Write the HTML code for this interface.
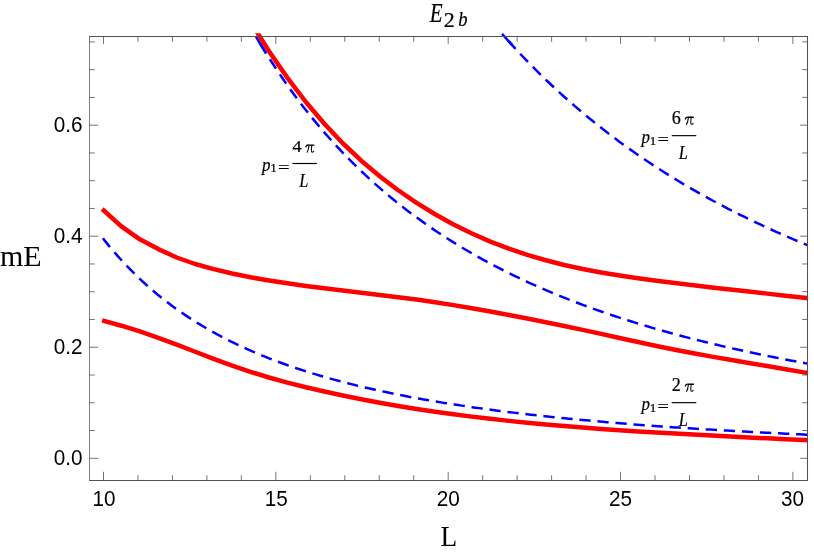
<!DOCTYPE html>
<html><head><meta charset="utf-8"><title>E2b</title>
<style>
html,body{margin:0;padding:0;background:#fff;}
body{width:814px;height:554px;overflow:hidden;font-family:"Liberation Sans",sans-serif;}
svg{display:block;will-change:transform;}
svg text{font-family:"Liberation Serif",serif;}
svg g[font-family="Liberation Sans"] text{font-family:"Liberation Sans",sans-serif;}
</style></head><body>
<svg width="814" height="554" viewBox="0 0 814 554">
<defs><clipPath id="cp"><rect x="89.50" y="33.30" width="718.00" height="447.20"/></clipPath><clipPath id="cpb"><rect x="89.50" y="0" width="718.00" height="480.50"/></clipPath></defs>
<rect width="814" height="554" fill="#fff"/>
<g fill="#000">
<text transform="translate(429.66,21.70) scale(0.752,1)" font-family="Liberation Serif" font-style="italic" font-size="27.92" stroke="#000" stroke-width="0.22">E</text>
<text transform="translate(443.80,26.50) scale(1.080,1)" font-family="Liberation Serif" font-style="normal" font-size="20.38" stroke="#000" stroke-width="0.22">2</text>
<text transform="translate(458.21,26.25) scale(0.926,1)" font-family="Liberation Serif" font-style="italic" font-size="20.00" stroke="#000" stroke-width="0.22">b</text>
<text transform="translate(-0.05,266.10) scale(1.047,1)" font-family="Liberation Serif" font-style="normal" font-size="28.68">mE</text>
<text transform="translate(440.62,546.00) scale(0.950,1)" font-family="Liberation Serif" font-style="normal" font-size="28.68">L</text>
<text transform="translate(262.06,170.70) scale(0.856,1)" font-family="Liberation Serif" font-style="italic" font-size="19.78" stroke="#000" stroke-width="0.22">p</text>
<text transform="translate(270.27,172.40) scale(1.100,1)" font-family="Liberation Serif" font-style="normal" font-size="11.80" stroke="#000" stroke-width="0.22">1</text>
<text transform="translate(278.11,172.88) scale(1.240,1)" font-family="Liberation Serif" font-style="normal" font-size="16.40" stroke="#000" stroke-width="0.22">=</text>
<text transform="translate(299.30,186.60) scale(0.890,1)" font-family="Liberation Serif" font-style="italic" font-size="18.42" stroke="#000" stroke-width="0.22">L</text>
<g transform="translate(305.40,144.20)" fill="none" stroke="#000" stroke-linecap="round" stroke-linejoin="round"><path stroke-width="1.35" d="M0.5,2.6 C1.1,1.1 1.9,0.75 3.2,0.85 L8.6,0.85"/><path stroke-width="1.05" d="M3.6,1.0 C3.4,3.8 2.9,6.2 1.7,8.0"/><path stroke-width="1.05" d="M6.5,1.0 C6.1,3.6 5.7,6.0 6.1,7.3 C6.5,8.3 7.6,8.1 8.3,7.0"/></g>
<text transform="translate(292.45,152.20) scale(1.135,1)" font-family="Liberation Serif" font-style="normal" font-size="16.00" stroke="#000" stroke-width="0.22">4</text>
<rect x="292.30" y="162.93" width="24.6" height="1.15" fill="#000"/>
<text transform="translate(641.46,142.85) scale(0.856,1)" font-family="Liberation Serif" font-style="italic" font-size="19.78" stroke="#000" stroke-width="0.22">p</text>
<text transform="translate(649.67,144.55) scale(1.100,1)" font-family="Liberation Serif" font-style="normal" font-size="11.80" stroke="#000" stroke-width="0.22">1</text>
<text transform="translate(657.51,145.03) scale(1.240,1)" font-family="Liberation Serif" font-style="normal" font-size="16.40" stroke="#000" stroke-width="0.22">=</text>
<text transform="translate(678.70,158.75) scale(0.890,1)" font-family="Liberation Serif" font-style="italic" font-size="18.42" stroke="#000" stroke-width="0.22">L</text>
<g transform="translate(684.80,116.35)" fill="none" stroke="#000" stroke-linecap="round" stroke-linejoin="round"><path stroke-width="1.35" d="M0.5,2.6 C1.1,1.1 1.9,0.75 3.2,0.85 L8.6,0.85"/><path stroke-width="1.05" d="M3.6,1.0 C3.4,3.8 2.9,6.2 1.7,8.0"/><path stroke-width="1.05" d="M6.5,1.0 C6.1,3.6 5.7,6.0 6.1,7.3 C6.5,8.3 7.6,8.1 8.3,7.0"/></g>
<text transform="translate(671.85,124.35) scale(0.990,1)" font-family="Liberation Serif" font-style="normal" font-size="18.30" stroke="#000" stroke-width="0.22">6</text>
<rect x="671.70" y="135.08" width="24.6" height="1.15" fill="#000"/>
<text transform="translate(641.46,409.85) scale(0.856,1)" font-family="Liberation Serif" font-style="italic" font-size="19.78" stroke="#000" stroke-width="0.22">p</text>
<text transform="translate(649.67,411.55) scale(1.100,1)" font-family="Liberation Serif" font-style="normal" font-size="11.80" stroke="#000" stroke-width="0.22">1</text>
<text transform="translate(657.51,412.03) scale(1.240,1)" font-family="Liberation Serif" font-style="normal" font-size="16.40" stroke="#000" stroke-width="0.22">=</text>
<text transform="translate(678.70,425.75) scale(0.890,1)" font-family="Liberation Serif" font-style="italic" font-size="18.42" stroke="#000" stroke-width="0.22">L</text>
<g transform="translate(684.80,383.35)" fill="none" stroke="#000" stroke-linecap="round" stroke-linejoin="round"><path stroke-width="1.35" d="M0.5,2.6 C1.1,1.1 1.9,0.75 3.2,0.85 L8.6,0.85"/><path stroke-width="1.05" d="M3.6,1.0 C3.4,3.8 2.9,6.2 1.7,8.0"/><path stroke-width="1.05" d="M6.5,1.0 C6.1,3.6 5.7,6.0 6.1,7.3 C6.5,8.3 7.6,8.1 8.3,7.0"/></g>
<text transform="translate(671.85,391.35) scale(0.990,1)" font-family="Liberation Serif" font-style="normal" font-size="18.30" stroke="#000" stroke-width="0.22">2</text>
<rect x="671.70" y="402.08" width="24.6" height="1.15" fill="#000"/>
</g>
<g font-family="Liberation Sans" font-size="21.25" fill="#000">
<text transform="translate(104.00,506.1) scale(0.975,1)" text-anchor="middle">10</text>
<text transform="translate(276.15,506.1) scale(0.975,1)" text-anchor="middle">15</text>
<text transform="translate(448.30,506.1) scale(0.975,1)" text-anchor="middle">20</text>
<text transform="translate(620.45,506.1) scale(0.975,1)" text-anchor="middle">25</text>
<text transform="translate(792.60,506.1) scale(0.975,1)" text-anchor="middle">30</text>
<text transform="translate(82.5,465.35) scale(0.975,1)" text-anchor="end">0.0</text>
<text transform="translate(82.5,354.31) scale(0.975,1)" text-anchor="end">0.2</text>
<text transform="translate(82.5,243.27) scale(0.975,1)" text-anchor="end">0.4</text>
<text transform="translate(82.5,132.23) scale(0.975,1)" text-anchor="end">0.6</text>
</g>
<g clip-path="url(#cpb)" fill="none">
<g stroke="#0000ff" stroke-width="2.5" stroke-dasharray="11.3 6.8">
<path d="M102.90,238.27 L106.35,242.62 L109.80,246.84 L113.25,250.94 L116.70,254.92 L120.14,258.78 L123.59,262.54 L127.04,266.19 L130.49,269.74 L133.94,273.20 L137.39,276.56 L140.84,279.82 L144.29,283.00 L147.74,286.10 L151.19,289.12 L154.63,292.05 L158.08,294.92 L161.53,297.70 L164.98,300.42 L168.43,303.07 L171.88,305.65 L175.33,308.17 L178.78,310.63 L182.23,313.03 L185.68,315.37 L189.12,317.65 L192.57,319.88 L196.02,322.06 L199.47,324.18 L202.92,326.26 L206.37,328.29 L209.82,330.27 L213.27,332.21 L216.72,334.10 L220.17,335.95 L223.61,337.76 L227.06,339.53 L230.51,341.27 L233.96,342.96 L237.41,344.62 L240.86,346.24 L244.31,347.83 L247.76,349.38 L251.21,350.90 L254.66,352.39 L258.10,353.85 L261.55,355.28 L265.00,356.68 L268.45,358.06 L271.90,359.40 L275.35,360.72 L278.80,362.01 L282.25,363.28 L285.70,364.52 L289.15,365.73 L292.59,366.93 L296.04,368.10 L299.49,369.25 L302.94,370.37 L306.39,371.48 L309.84,372.56 L313.29,373.63 L316.74,374.67 L320.19,375.70 L323.64,376.71 L327.08,377.69 L330.53,378.66 L333.98,379.62 L337.43,380.55 L340.88,381.47 L344.33,382.38 L347.78,383.27 L351.23,384.14 L354.68,384.99 L358.13,385.84 L361.57,386.67 L365.02,387.48 L368.47,388.28 L371.92,389.07 L375.37,389.84 L378.82,390.60 L382.27,391.35 L385.72,392.08 L389.17,392.81 L392.62,393.52 L396.07,394.22 L399.51,394.91 L402.96,395.59 L406.41,396.25 L409.86,396.91 L413.31,397.56 L416.76,398.19 L420.21,398.82 L423.66,399.44 L427.11,400.04 L430.56,400.64 L434.00,401.23 L437.45,401.81 L440.90,402.38 L444.35,402.94 L447.80,403.50 L451.25,404.04 L454.70,404.58 L458.15,405.11 L461.60,405.63 L465.05,406.14 L468.49,406.65 L471.94,407.15 L475.39,407.64 L478.84,408.13 L482.29,408.61 L485.74,409.08 L489.19,409.54 L492.64,410.00 L496.09,410.45 L499.54,410.90 L502.98,411.34 L506.43,411.77 L509.88,412.20 L513.33,412.62 L516.78,413.03 L520.23,413.44 L523.68,413.85 L527.13,414.25 L530.58,414.64 L534.03,415.03 L537.47,415.41 L540.92,415.79 L544.37,416.17 L547.82,416.53 L551.27,416.90 L554.72,417.26 L558.17,417.61 L561.62,417.96 L565.07,418.31 L568.52,418.65 L571.96,418.98 L575.41,419.32 L578.86,419.64 L582.31,419.97 L585.76,420.29 L589.21,420.60 L592.66,420.92 L596.11,421.22 L599.56,421.53 L603.01,421.83 L606.45,422.13 L609.90,422.42 L613.35,422.71 L616.80,423.00 L620.25,423.28 L623.70,423.56 L627.15,423.83 L630.60,424.11 L634.05,424.38 L637.50,424.64 L640.94,424.91 L644.39,425.17 L647.84,425.42 L651.29,425.68 L654.74,425.93 L658.19,426.18 L661.64,426.42 L665.09,426.67 L668.54,426.91 L671.99,427.14 L675.43,427.38 L678.88,427.61 L682.33,427.84 L685.78,428.07 L689.23,428.29 L692.68,428.51 L696.13,428.73 L699.58,428.95 L703.03,429.17 L706.48,429.38 L709.92,429.59 L713.37,429.80 L716.82,430.00 L720.27,430.21 L723.72,430.41 L727.17,430.61 L730.62,430.80 L734.07,431.00 L737.52,431.19 L740.97,431.38 L744.41,431.57 L747.86,431.76 L751.31,431.94 L754.76,432.12 L758.21,432.31 L761.66,432.48 L765.11,432.66 L768.56,432.84 L772.01,433.01 L775.46,433.18 L778.90,433.35 L782.35,433.52 L785.80,433.69 L789.25,433.85 L792.70,434.02 L796.15,434.18 L799.60,434.34 L803.05,434.50 L806.50,434.66 L809.95,434.81 L813.39,434.96"/>
<path d="M260.29,43.84 L262.62,47.68 L266.07,53.25 L269.52,58.70 L272.97,64.05 L276.42,69.28 L279.87,74.42 L283.32,79.45 L286.77,84.39 L290.21,89.23 L293.66,93.97 L297.11,98.63 L300.56,103.19 L304.01,107.67 L307.46,112.07 L310.91,116.38 L314.36,120.61 L317.81,124.77 L321.26,128.85 L324.70,132.85 L328.15,136.79 L331.60,140.65 L335.05,144.44 L338.50,148.16 L341.95,151.82 L345.40,155.42 L348.85,158.95 L352.30,162.42 L355.75,165.83 L359.19,169.18 L362.64,172.48 L366.09,175.71 L369.54,178.90 L372.99,182.03 L376.44,185.11 L379.89,188.13 L383.34,191.11 L386.79,194.04 L390.24,196.92 L393.68,199.75 L397.13,202.54 L400.58,205.28 L404.03,207.98 L407.48,210.64 L410.93,213.25 L414.38,215.82 L417.83,218.36 L421.28,220.85 L424.73,223.30 L428.17,225.72 L431.62,228.10 L435.07,230.44 L438.52,232.75 L441.97,235.02 L445.42,237.26 L448.87,239.47 L452.32,241.64 L455.77,243.78 L459.22,245.89 L462.66,247.96 L466.11,250.01 L469.56,252.03 L473.01,254.02 L476.46,255.98 L479.91,257.91 L483.36,259.81 L486.81,261.69 L490.26,263.54 L493.71,265.36 L497.15,267.16 L500.60,268.94 L504.05,270.69 L507.50,272.41 L510.95,274.12 L514.40,275.79 L517.85,277.45 L521.30,279.08 L524.75,280.69 L528.20,282.28 L531.64,283.85 L535.09,285.40 L538.54,286.93 L541.99,288.43 L545.44,289.92 L548.89,291.39 L552.34,292.84 L555.79,294.27 L559.24,295.68 L562.69,297.07 L566.13,298.45 L569.58,299.81 L573.03,301.15 L576.48,302.47 L579.93,303.78 L583.38,305.07 L586.83,306.34 L590.28,307.60 L593.73,308.84 L597.18,310.07 L600.62,311.29 L604.07,312.48 L607.52,313.67 L610.97,314.84 L614.42,315.99 L617.87,317.13 L621.32,318.26 L624.77,319.37 L628.22,320.47 L631.67,321.56 L635.11,322.64 L638.56,323.70 L642.01,324.75 L645.46,325.79 L648.91,326.81 L652.36,327.83 L655.81,328.83 L659.26,329.82 L662.71,330.80 L666.16,331.77 L669.60,332.73 L673.05,333.67 L676.50,334.61 L679.95,335.53 L683.40,336.45 L686.85,337.35 L690.30,338.25 L693.75,339.13 L697.20,340.01 L700.65,340.87 L704.09,341.73 L707.54,342.58 L710.99,343.41 L714.44,344.24 L717.89,345.06 L721.34,345.87 L724.79,346.67 L728.24,347.47 L731.69,348.25 L735.14,349.03 L738.58,349.80 L742.03,350.56 L745.48,351.31 L748.93,352.06 L752.38,352.79 L755.83,353.52 L759.28,354.24 L762.73,354.96 L766.18,355.67 L769.63,356.37 L773.07,357.06 L776.52,357.74 L779.97,358.42 L783.42,359.09 L786.87,359.76 L790.32,360.42 L793.77,361.07 L797.22,361.72 L800.67,362.35 L804.12,362.99 L807.56,363.61 L811.01,364.23"/>
<path d="M507.98,40.46 L508.98,41.57 L512.42,45.38 L515.87,49.13 L519.32,52.84 L522.77,56.49 L526.22,60.10 L529.67,63.65 L533.12,67.16 L536.57,70.62 L540.02,74.04 L543.47,77.41 L546.91,80.74 L550.36,84.02 L553.81,87.26 L557.26,90.46 L560.71,93.62 L564.16,96.74 L567.61,99.82 L571.06,102.86 L574.51,105.86 L577.96,108.82 L581.40,111.74 L584.85,114.63 L588.30,117.48 L591.75,120.30 L595.20,123.08 L598.65,125.83 L602.10,128.55 L605.55,131.23 L609.00,133.88 L612.45,136.50 L615.89,139.08 L619.34,141.64 L622.79,144.16 L626.24,146.65 L629.69,149.12 L633.14,151.55 L636.59,153.96 L640.04,156.34 L643.49,158.69 L646.94,161.01 L650.38,163.31 L653.83,165.58 L657.28,167.82 L660.73,170.04 L664.18,172.23 L667.63,174.40 L671.08,176.54 L674.53,178.66 L677.98,180.76 L681.43,182.83 L684.87,184.88 L688.32,186.91 L691.77,188.91 L695.22,190.89 L698.67,192.85 L702.12,194.79 L705.57,196.71 L709.02,198.60 L712.47,200.48 L715.92,202.33 L719.36,204.17 L722.81,205.98 L726.26,207.78 L729.71,209.56 L733.16,211.32 L736.61,213.06 L740.06,214.78 L743.51,216.48 L746.96,218.17 L750.41,219.84 L753.85,221.49 L757.30,223.12 L760.75,224.74 L764.20,226.34 L767.65,227.92 L771.10,229.49 L774.55,231.04 L778.00,232.58 L781.45,234.10 L784.90,235.60 L788.34,237.09 L791.79,238.57 L795.24,240.03 L798.69,241.48 L802.14,242.91 L805.59,244.33 L809.04,245.73 L812.49,247.12"/>
</g>
<g stroke="#0000ff" stroke-width="2.5">
<path d="M255.72,36.20 L259.17,42.00 L260.29,43.84 L262.62,47.68 L266.07,53.25"/>
<path d="M502.08,33.80 L505.53,37.71 L507.98,40.46 L508.98,41.57 L512.42,45.38"/>
</g>
</g><g clip-path="url(#cp)" fill="none">
<g stroke="#ff0000" stroke-width="4.5" stroke-linejoin="round">
<path d="M102.10,320.39 L121.40,325.71 L139.85,331.46 L158.30,337.78 L176.75,344.60 L195.20,351.73 L213.65,358.87 L232.10,365.70 L250.55,371.93 L269.00,377.50 L287.45,382.56 L305.90,387.22 L324.35,391.53 L342.80,395.53 L361.25,399.26 L379.70,402.71 L398.15,405.93 L416.60,408.91 L435.05,411.68 L453.50,414.24 L471.95,416.62 L490.40,418.83 L508.85,420.87 L527.30,422.75 L545.75,424.49 L564.20,426.10 L582.65,427.59 L601.10,428.97 L619.55,430.25 L638.00,431.44 L656.45,432.56 L674.90,433.61 L693.35,434.61 L711.80,435.56 L730.25,436.49 L748.70,437.39 L767.15,438.29 L785.60,439.19 L804.05,440.10 L822.50,441.04"/>
<path d="M102.10,209.00 L121.40,226.40 L139.80,239.30 L158.30,249.10 L176.70,257.50 L195.20,264.00 L213.65,269.18 L232.10,273.52 L250.55,277.24 L269.00,280.47 L287.45,283.34 L305.90,285.92 L324.35,288.28 L342.80,290.50 L361.25,292.70 L379.70,294.90 L398.15,297.18 L416.60,299.60 L435.05,302.23 L453.50,305.12 L471.95,308.23 L490.40,311.55 L508.85,314.93 L527.30,318.47 L545.75,322.17 L564.20,325.98 L582.65,329.91 L601.10,333.91 L619.55,337.96 L638.00,341.99 L656.45,346.00 L674.90,349.78 L693.35,353.31 L711.80,356.64 L730.25,359.78 L748.70,362.93 L767.15,366.09 L785.60,369.24 L804.05,372.40 L822.50,375.55"/>
<path d="M250.55,21.84 L269.00,51.17 L287.45,77.85 L305.90,102.00 L324.35,123.76 L342.80,143.26 L361.25,160.66 L379.70,176.22 L398.15,190.25 L416.60,202.91 L435.05,214.29 L453.50,224.48 L471.95,233.55 L490.40,241.59 L508.85,248.67 L527.30,254.87 L545.75,260.28 L564.20,264.98 L582.65,269.04 L601.10,272.55 L619.55,275.58 L638.00,278.22 L656.45,280.68 L674.90,283.09 L693.35,285.34 L711.80,287.54 L730.25,289.58 L748.70,291.61 L767.15,293.63 L785.60,295.65 L804.05,297.68 L822.50,299.70"/>
</g></g>
<g stroke="#525252" stroke-width="1.05" fill="none">
<path d="M89.00,36.50H808.00M89.00,480.50H808.00M807.50,36.50V480.50"/>
<path stroke="#787878" stroke-width="0.95" d="M89.50,36.50V480.50"/>
<path stroke-width="0.8" d="M103.50,480.50V471.80M103.50,36.50V43.90M137.97,480.50V475.20M137.97,36.50V41.80M172.44,480.50V475.20M172.44,36.50V41.80M206.91,480.50V475.20M206.91,36.50V41.80M241.38,480.50V475.20M241.38,36.50V41.80M275.85,480.50V471.80M275.85,36.50V43.90M310.32,480.50V475.20M310.32,36.50V41.80M344.79,480.50V475.20M344.79,36.50V41.80M379.26,480.50V475.20M379.26,36.50V41.80M413.73,480.50V475.20M413.73,36.50V41.80M448.20,480.50V471.80M448.20,36.50V43.90M482.67,480.50V475.20M482.67,36.50V41.80M517.14,480.50V475.20M517.14,36.50V41.80M551.61,480.50V475.20M551.61,36.50V41.80M586.08,480.50V475.20M586.08,36.50V41.80M620.55,480.50V471.80M620.55,36.50V43.90M655.02,480.50V475.20M655.02,36.50V41.80M689.49,480.50V475.20M689.49,36.50V41.80M723.96,480.50V475.20M723.96,36.50V41.80M758.43,480.50V475.20M758.43,36.50V41.80M792.90,480.50V471.80M792.90,36.50V43.90M89.50,458.30H98.20M807.50,458.30H800.10M89.50,430.54H94.80M807.50,430.54H802.20M89.50,402.78H94.80M807.50,402.78H802.20M89.50,375.02H94.80M807.50,375.02H802.20M89.50,347.26H98.20M807.50,347.26H800.10M89.50,319.50H94.80M807.50,319.50H802.20M89.50,291.74H94.80M807.50,291.74H802.20M89.50,263.98H94.80M807.50,263.98H802.20M89.50,236.22H98.20M807.50,236.22H800.10M89.50,208.46H94.80M807.50,208.46H802.20M89.50,180.70H94.80M807.50,180.70H802.20M89.50,152.94H94.80M807.50,152.94H802.20M89.50,125.18H98.20M807.50,125.18H800.10M89.50,97.42H94.80M807.50,97.42H802.20M89.50,69.66H94.80M807.50,69.66H802.20M89.50,41.90H94.80M807.50,41.90H802.20"/>
</g></svg>
</body></html>
